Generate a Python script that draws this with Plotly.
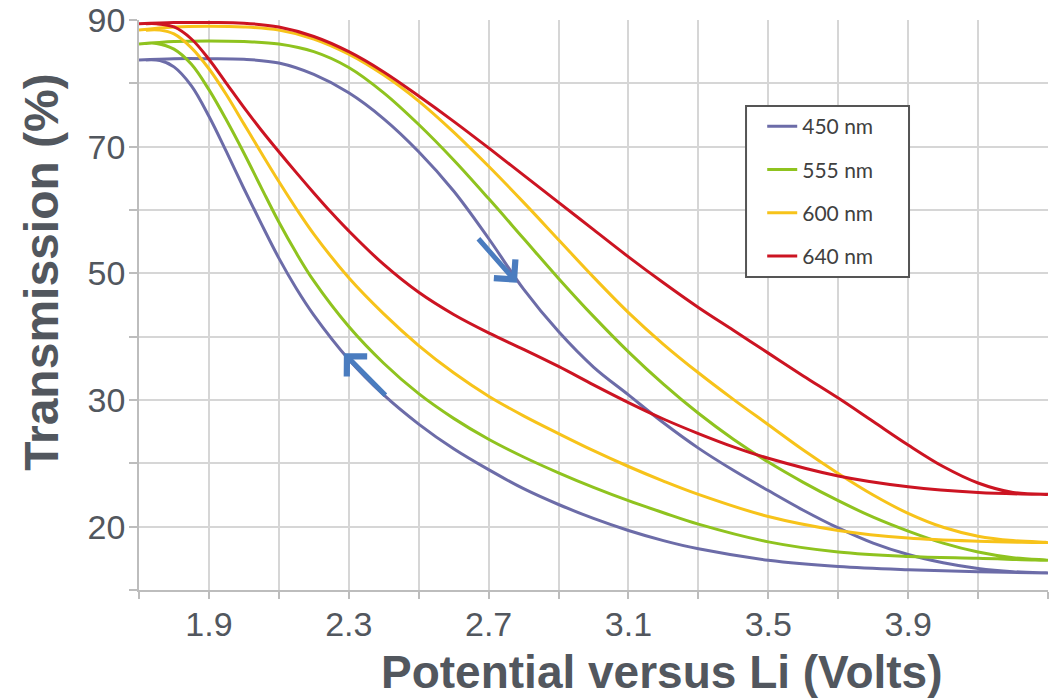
import plotly.graph_objects as go

# ---------------- data (axis units) ----------------
series_names = ["450 nm", "555 nm", "600 nm", "640 nm"]
series_colors = ["#6c6ca8", "#8fc31f", "#f7c31a", "#cc1422"]

# upper branches (read left -> right)
x_up_450 = [1.70, 1.80, 1.90, 2.00, 2.10, 2.20, 2.30, 2.40, 2.50, 2.60, 2.70, 2.80, 2.90, 3.00, 3.10, 3.20, 3.30, 3.40, 3.50, 3.60, 3.70, 3.80, 3.90, 4.00, 4.10, 4.20, 4.30]
y_up_450 = [83.7, 83.9, 83.9, 83.8, 83.2, 81.4, 78.5, 74.4, 69.2, 63.0, 55.5, 47.5, 40.8, 35.2, 30.8, 26.4, 22.4, 18.9, 15.7, 12.6, 9.8, 7.4, 5.6, 4.3, 3.4, 2.9, 2.7]
# lower branches (read right -> left, closing the loop)
x_dn_450 = [4.10, 3.90, 3.70, 3.50, 3.30, 3.20, 3.10, 3.00, 2.90, 2.80, 2.70, 2.60, 2.50, 2.40, 2.30, 2.20, 2.15, 2.10, 2.05, 2.00, 1.95, 1.90, 1.85, 1.80, 1.76, 1.72]
y_dn_450 = [2.9, 3.2, 3.7, 4.7, 6.5, 7.8, 9.4, 11.3, 13.5, 16.0, 19.0, 22.3, 26.2, 30.8, 36.4, 43.4, 47.6, 52.4, 57.8, 63.4, 69.2, 74.8, 79.6, 82.6, 83.6, 83.7]

x_up_555 = [1.70, 1.80, 1.90, 2.00, 2.10, 2.20, 2.30, 2.40, 2.50, 2.60, 2.70, 2.80, 2.90, 3.00, 3.10, 3.20, 3.30, 3.40, 3.50, 3.60, 3.70, 3.80, 3.90, 4.00, 4.10, 4.20, 4.30]
y_up_555 = [86.2, 86.6, 86.7, 86.6, 86.2, 85.0, 82.5, 78.5, 73.5, 67.9, 61.8, 55.5, 49.2, 43.2, 37.6, 32.5, 27.9, 23.8, 20.2, 17.0, 14.1, 11.5, 9.3, 7.4, 6.0, 5.1, 4.7]
x_dn_555 = [4.10, 3.90, 3.70, 3.50, 3.30, 3.20, 3.10, 3.00, 2.90, 2.80, 2.70, 2.60, 2.50, 2.40, 2.30, 2.20, 2.15, 2.10, 2.05, 2.00, 1.95, 1.90, 1.85, 1.80, 1.75, 1.72]
y_dn_555 = [5.0, 5.3, 6.0, 7.6, 10.4, 12.2, 14.1, 16.2, 18.5, 21.0, 23.8, 27.1, 31.0, 35.8, 41.6, 48.8, 53.2, 58.1, 63.5, 69.0, 74.2, 79.0, 83.0, 85.4, 86.3, 86.3]

x_up_600 = [1.70, 1.80, 1.90, 2.00, 2.10, 2.20, 2.30, 2.40, 2.50, 2.60, 2.70, 2.80, 2.90, 3.00, 3.10, 3.20, 3.30, 3.40, 3.50, 3.60, 3.70, 3.80, 3.90, 4.00, 4.10, 4.20, 4.30]
y_up_600 = [88.4, 88.9, 89.0, 88.9, 88.4, 87.0, 84.6, 81.3, 77.2, 72.3, 66.9, 61.2, 55.3, 49.4, 43.8, 38.8, 34.3, 30.1, 26.1, 22.1, 18.4, 15.0, 12.1, 9.9, 8.5, 7.8, 7.5]
x_dn_600 = [4.10, 3.90, 3.70, 3.50, 3.30, 3.20, 3.10, 3.00, 2.90, 2.80, 2.70, 2.60, 2.50, 2.40, 2.30, 2.20, 2.15, 2.10, 2.05, 2.00, 1.95, 1.90, 1.85, 1.80, 1.76, 1.72]
y_dn_600 = [7.7, 8.2, 9.4, 11.6, 15.1, 17.2, 19.5, 22.0, 24.7, 27.5, 30.6, 34.3, 38.6, 43.6, 49.3, 56.2, 60.2, 64.5, 69.0, 73.6, 78.2, 82.3, 85.6, 87.8, 88.4, 88.4]

x_up_640 = [1.70, 1.80, 1.90, 2.00, 2.10, 2.20, 2.30, 2.40, 2.50, 2.60, 2.70, 2.80, 2.90, 3.00, 3.10, 3.20, 3.30, 3.40, 3.50, 3.60, 3.70, 3.80, 3.90, 4.00, 4.10, 4.20, 4.30]
y_up_640 = [89.4, 89.6, 89.6, 89.5, 88.9, 87.4, 85.0, 81.8, 78.0, 74.0, 69.8, 65.5, 61.2, 56.9, 52.6, 48.5, 44.6, 41.0, 37.4, 33.8, 30.3, 26.6, 22.9, 19.5, 16.9, 15.4, 15.1]
x_dn_640 = [4.10, 3.90, 3.70, 3.50, 3.40, 3.30, 3.20, 3.10, 3.00, 2.90, 2.80, 2.70, 2.60, 2.50, 2.40, 2.30, 2.25, 2.20, 2.15, 2.10, 2.05, 2.00, 1.95, 1.90, 1.85, 1.80, 1.75, 1.72]
y_dn_640 = [15.4, 16.3, 18.0, 20.8, 22.6, 24.7, 27.0, 29.6, 32.4, 35.3, 38.0, 40.6, 43.5, 47.0, 51.4, 56.7, 59.6, 62.7, 65.9, 69.2, 72.6, 76.2, 80.0, 83.8, 87.0, 88.9, 89.4, 89.4]

# axis ticks (gridlines every 0.2 V / 10 units; labels as printed on the chart)
x_tickvals = [1.7, 1.9, 2.1, 2.3, 2.5, 2.7, 2.9, 3.1, 3.3, 3.5, 3.7, 3.9, 4.1, 4.3]
x_ticktext = ["", "1.9", "", "2.3", "", "2.7", "", "3.1", "", "3.5", "", "3.9", "", ""]
y_tickvals = [0, 10, 20, 30, 40, 50, 60, 70, 80, 90]
y_ticktext = ["", "20", "", "30", "", "50", "", "70", "", "90"]

# direction arrows (head point, tail point) in axis units
arrow_heads = [(2.781, 48.5), (2.286, 37.4)]
arrow_tails = [(2.667, 55.7), (2.409, 30.5)]

# ---------------- figure ----------------
loops_x = [x_up_450 + x_dn_450, x_up_555 + x_dn_555, x_up_600 + x_dn_600, x_up_640 + x_dn_640]
loops_y = [y_up_450 + y_dn_450, y_up_555 + y_dn_555, y_up_600 + y_dn_600, y_up_640 + y_dn_640]

fig = go.Figure()
for name, color, xs, ys in zip(series_names, series_colors, loops_x, loops_y):
    fig.add_trace(go.Scatter(
        x=xs, y=ys, name=name, mode="lines", legendgroup=name,
        line=dict(color=color, width=3, shape="spline", smoothing=1.0),
    ))

for (hx, hy), (tx, ty) in zip(arrow_heads, arrow_tails):
    fig.add_annotation(
        x=hx, y=hy, ax=tx, ay=ty, xref="x", yref="y", axref="x", ayref="y",
        text="", showarrow=True, arrowhead=4, arrowsize=1.1, arrowwidth=5,
        arrowcolor="#4a7cbf",
    )

title_color = "#52575e"
fig.add_annotation(
    text="<b>Potential versus Li (Volts)</b>", xref="paper", yref="paper",
    x=0.575, y=-0.144, xanchor="center", yanchor="middle", showarrow=False,
    font=dict(family="Liberation Sans, Arial, sans-serif", size=46, color=title_color),
)
fig.add_annotation(
    text="<b>Transmission (%)</b>", xref="paper", yref="paper",
    x=-0.107, y=0.558, xanchor="center", yanchor="middle", showarrow=False,
    textangle=-90,
    font=dict(family="Liberation Sans, Arial, sans-serif", size=48, color=title_color),
)

# legend frame (white box with dark border), legend entries drawn on top of it
fig.add_shape(
    type="rect", xref="paper", yref="paper",
    x0=0.6678, x1=0.8471, y0=0.5491, y1=0.8491,
    line=dict(color="#555555", width=2), fillcolor="white", layer="above",
)

grid_color = "#d6d6d6"
fig.update_layout(
    width=1052, height=700,
    margin=dict(l=139, r=4, t=20, b=110),
    paper_bgcolor="white", plot_bgcolor="white",
    font=dict(family="Liberation Sans, Arial, sans-serif", color=title_color),
    showlegend=True,
    legend=dict(
        x=0.668, y=0.849, xanchor="left", yanchor="top",
        bgcolor="rgba(0,0,0,0)", borderwidth=0,
        font=dict(family="Lato, sans-serif", size=21, color="#404040"),
        tracegroupgap=13, indentation=16, itemwidth=30,
    ),
    xaxis=dict(
        range=[1.7, 4.3], tickmode="array", tickvals=x_tickvals, ticktext=x_ticktext,
        showgrid=True, gridcolor=grid_color, gridwidth=1.5,
        showline=True, linecolor="#bdbdbd", linewidth=1.5,
        ticks="outside", ticklen=7, tickcolor="#bdbdbd", tickwidth=1.5,
        tickfont=dict(size=34, color=title_color), ticklabelstandoff=-4,
        ticklabeloverflow="allow",
        zeroline=False, automargin=False,
    ),
    yaxis=dict(
        range=[0, 90], tickmode="array", tickvals=y_tickvals, ticktext=y_ticktext,
        showgrid=True, gridcolor=grid_color, gridwidth=1.5,
        showline=True, linecolor="#bdbdbd", linewidth=1.5,
        ticks="outside", ticklen=8, tickcolor="#bdbdbd", tickwidth=1.5,
        tickfont=dict(size=34, color=title_color), ticklabelstandoff=-3,
        ticklabeloverflow="allow",
        zeroline=False, automargin=False,
    ),
)

# remove the browser's default 8px body margin so the figure fills the window exactly
fig.write_html(
    "out.html",
    config={"displayModeBar": False},
    post_script="document.body.style.margin='0px';",
)
